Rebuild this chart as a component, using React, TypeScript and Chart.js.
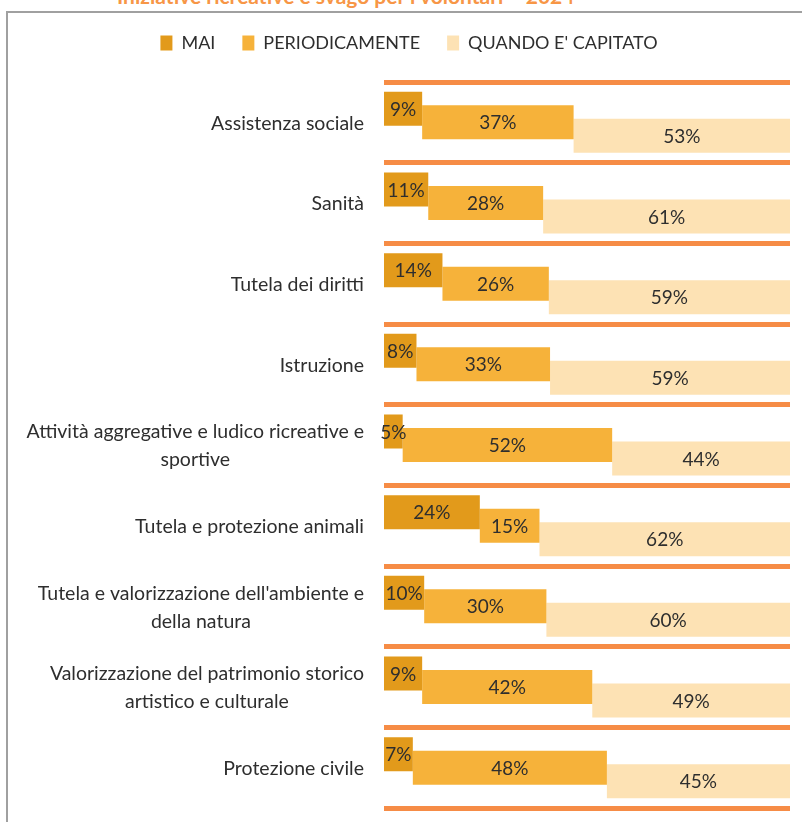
import React, { useEffect, useRef } from "react";
import { Chart, registerables } from "chart.js";

Chart.register(...registerables);

// ---------- data ----------
const titleText = "Iniziative ricreative e svago per i volontari – 2024";
const categories: string[][] = [
  ["Assistenza sociale"],
  ["Sanità"],
  ["Tutela dei diritti"],
  ["Istruzione"],
  ["Attività aggregative e ludico ricreative e", "sportive"],
  ["Tutela e protezione animali"],
  ["Tutela e valorizzazione dell'ambiente e", "della natura"],
  ["Valorizzazione del patrimonio storico", "artistico e culturale"],
  ["Protezione civile"],
];
const seriesNames = ["MAI", "PERIODICAMENTE", "QUANDO E' CAPITATO"];
const mai = [9.4, 10.9, 14.4, 8.0, 4.6, 23.6, 9.9, 9.4, 7.1];
const periodicamente = [37.3, 28.3, 26.2, 32.9, 51.6, 14.7, 30.1, 41.9, 47.8];
const quandoCapitato = [53.3, 60.8, 59.4, 59.1, 43.8, 61.7, 60.0, 48.7, 45.1];

// ---------- styles ----------
const seriesColors = ["#E29A1B", "#F6B23A", "#FDE2B4"];
const separatorColor = "#F68C46";
const textColor = "#2E2E2E";
const FONT = "Lato, 'Open Sans', sans-serif";
const LABEL_SIZE = 19.5;
const VALUE_SIZE = 19;
const LEGEND_SIZE = 18;
const LINE_H = 28;
const LABEL_GAP = 20;
const LEGEND_SHIFT = 10;

const seriesValues = [mai, periodicamente, quandoCapitato];

function floating(): number[][][] {
  return seriesValues.map((vals, s) =>
    vals.map((v, i) => {
      let start = 0;
      for (let k = 0; k < s; k++) start += seriesValues[k][i];
      return [start, start + v];
    })
  );
}

const valueLabels = {
  id: "valueLabels",
  afterDatasetsDraw(chart: any) {
    const ctx = chart.ctx;
    ctx.save();
    ctx.font = `${VALUE_SIZE}px ${FONT}`;
    ctx.fillStyle = textColor;
    ctx.textAlign = "center";
    ctx.textBaseline = "middle";
    chart.data.datasets.forEach((_ds: any, di: number) => {
      const meta = chart.getDatasetMeta(di);
      meta.data.forEach((el: any, i: number) => {
        const p = el.getProps(["x", "y", "base"], true);
        const v = seriesValues[di][i];
        ctx.fillText(Math.round(v) + "%", (p.x + p.base) / 2, p.y + 1);
      });
    });
    ctx.restore();
  },
};

const categoryLabels = {
  id: "categoryLabels",
  afterDraw(chart: any) {
    const scale = chart.scales.y;
    const ctx = chart.ctx;
    ctx.save();
    ctx.font = `${LABEL_SIZE}px ${FONT}`;
    ctx.fillStyle = textColor;
    ctx.textAlign = "center";
    ctx.textBaseline = "middle";
    categories.forEach((lines, i) => {
      const yc = scale.getPixelForValue(i) + 1;
      const w = Math.max(...lines.map((l) => ctx.measureText(l).width));
      const xc = scale.right - LABEL_GAP - w / 2;
      const n = lines.length;
      lines.forEach((l, j) => ctx.fillText(l, xc, yc + (j - (n - 1) / 2) * LINE_H));
    });
    ctx.restore();
  },
};

const legendSpacing = {
  id: "legendSpacing",
  beforeLayout(chart: any) {
    const legend = chart.legend;
    if (legend && !legend._patched) {
      const origFit = legend.fit;
      legend.fit = function () {
        origFit.call(this);
        this.height += 20;
      };
      const origDraw = legend.draw;
      legend.draw = function () {
        const ctx = this.ctx;
        ctx.save();
        ctx.translate(LEGEND_SHIFT, 0);
        origDraw.call(this);
        ctx.restore();
      };
      legend._patched = true;
    }
  },
};

export default function App() {
  const ref = useRef<HTMLCanvasElement | null>(null);

  useEffect(() => {
    if (!ref.current) return;
    const data = floating();
    const chart = new Chart(ref.current, {
      type: "bar",
      data: {
        labels: categories.map((c) => c.join(" ")),
        datasets: seriesNames.map((name, s) => ({
          label: name,
          data: data[s] as any,
          backgroundColor: seriesColors[s],
          borderWidth: 0,
          categoryPercentage: 0.502,
          barPercentage: 2.52,
        })),
      },
      options: {
        indexAxis: "y",
        animation: false,
        responsive: true,
        maintainAspectRatio: false,
        layout: { padding: { top: 4, right: 12, bottom: 14, left: 0 } },
        plugins: {
          legend: {
            position: "top",
            labels: {
              boxWidth: 12,
              boxHeight: 15,
              padding: 27,
              color: textColor,
              font: { family: FONT, size: LEGEND_SIZE },
            },
          },
          tooltip: { enabled: false },
        },
        scales: {
          x: { display: false, min: 0, max: 100 },
          y: {
            offset: true,
            grid: { color: separatorColor, lineWidth: 5, drawTicks: false, offset: true },
            border: { display: false },
            ticks: { display: false },
            afterFit(scale: any) {
              scale.width = 376;
            },
          },
        },
      },
      plugins: [valueLabels, categoryLabels, legendSpacing],
    });
    return () => chart.destroy();
  }, []);

  return (
    <div
      style={{
        position: "fixed",
        left: 0,
        top: 0,
        width: 802,
        height: 822,
        overflow: "hidden",
        background: "#fff",
      }}
    >
      <div
        style={{
          position: "absolute",
          left: 117,
          top: -16,
          fontFamily: FONT,
          fontWeight: 700,
          fontSize: 21,
          lineHeight: "24px",
          color: "#F79646",
          whiteSpace: "nowrap",
        }}
      >
        {titleText}
      </div>
      <div
        style={{
          position: "absolute",
          left: 6,
          top: 11,
          width: 830,
          height: 840,
          border: "2px solid #A0A0A0",
          boxSizing: "border-box",
        }}
      />
      <div style={{ position: "absolute", left: 8, top: 3, width: 794, height: 819 }}>
        <canvas ref={ref} />
      </div>
    </div>
  );
}
